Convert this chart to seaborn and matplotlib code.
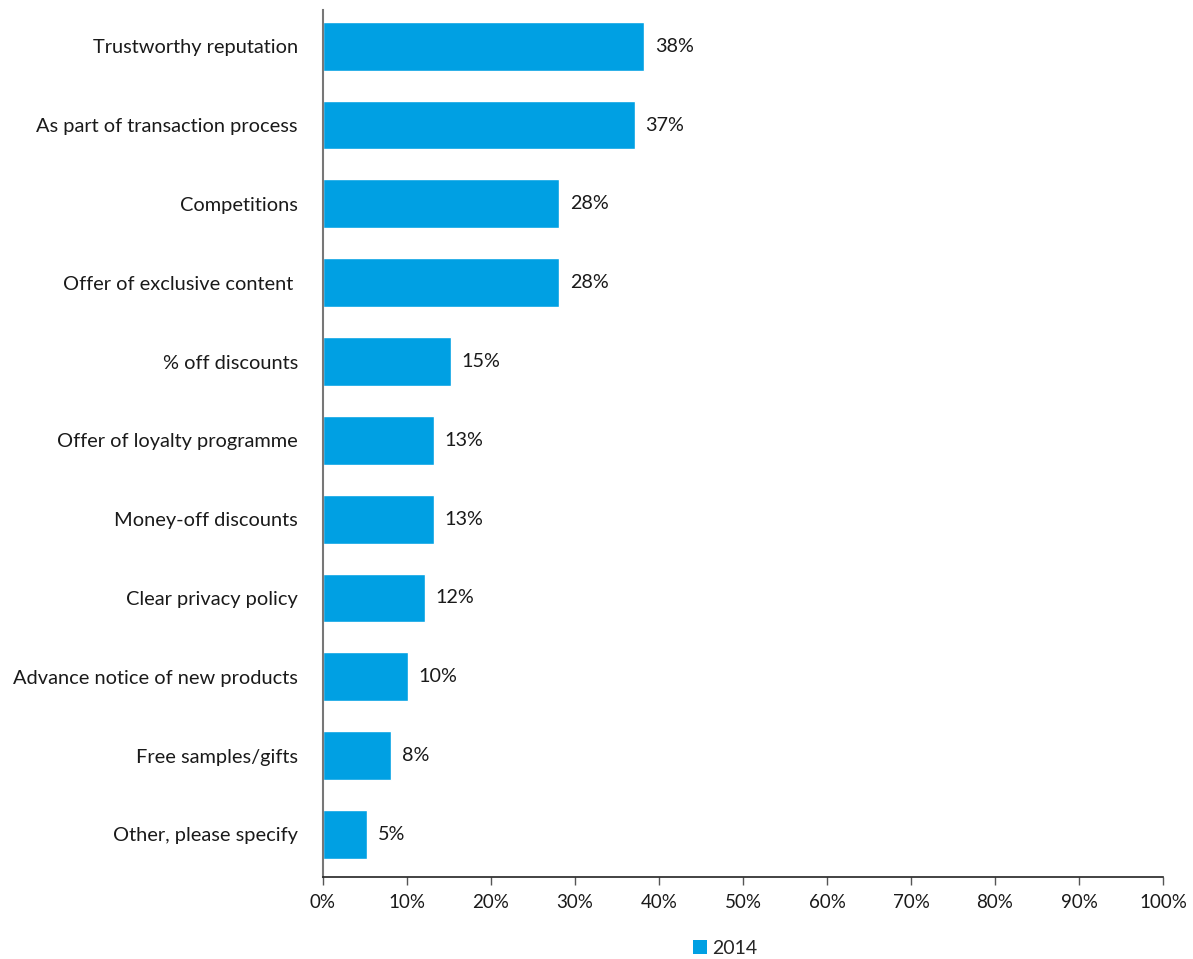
import matplotlib
matplotlib.use('Agg')
import matplotlib.pyplot as plt
import seaborn as sns
import pandas as pd
from matplotlib.ticker import PercentFormatter
from matplotlib.patches import Patch

categories = [
    'Trustworthy reputation',
    'As part of transaction process',
    'Competitions',
    'Offer of exclusive content ',
    '% off discounts',
    'Offer of loyalty programme',
    'Money-off discounts',
    'Clear privacy policy',
    'Advance notice of new products',
    'Free samples/gifts',
    'Other, please specify',
]
values_2014 = [38.2, 37.1, 28.1, 28.1, 15.2, 13.2, 13.2, 12.1, 10.1, 8.1, 5.2]
labels_2014 = ['38%', '37%', '28%', '28%', '15%', '13%', '13%', '12%', '10%', '8%', '5%']
series_name = '2014'

bar_color = '#00A0E3'

sns.set_style('white')
plt.rcParams['font.family'] = ['Lato', 'DejaVu Sans']

df = pd.DataFrame({'category': categories, 'value': values_2014})

fig = plt.figure(figsize=(11.93, 9.59), dpi=100)
ax = fig.add_axes([0.2707, 0.0855, 0.7042, 0.9041])

sns.barplot(data=df, y='category', x='value', color=bar_color, width=0.62,
            saturation=1, ax=ax)

for i, (v, lab) in enumerate(zip(values_2014, labels_2014)):
    ax.text(v + 1.3, i, lab, va='center', ha='left', fontsize=14.2, color='#1a1a1a')

ax.set_xlim(0, 100)
ax.set_ylim(10.54, -0.46)
ax.set_xticks(range(0, 101, 10))
ax.xaxis.set_major_formatter(PercentFormatter(decimals=0))
ax.set_xlabel('')
ax.set_ylabel('')
ax.tick_params(axis='x', bottom=True, length=6, width=1, color='#555555',
               labelsize=13.5, labelcolor='#1a1a1a', pad=6)
ax.tick_params(axis='y', left=False, labelsize=14.4, labelcolor='#1a1a1a', pad=14.5)

for s in ['top', 'right']:
    ax.spines[s].set_visible(False)
ax.spines['left'].set_color('#777777')
ax.spines['left'].set_linewidth(1.5)
ax.spines['bottom'].set_color('#222222')
ax.spines['bottom'].set_linewidth(1.2)

handle = Patch(facecolor=bar_color, edgecolor='none', label=series_name)
fig.legend(handles=[handle], loc='center', bbox_to_anchor=(0.608, 0.011),
           frameon=False, fontsize=14, handlelength=0.7, handleheight=0.7,
           handletextpad=0.3)

fig.savefig('out.png', dpi=100)
